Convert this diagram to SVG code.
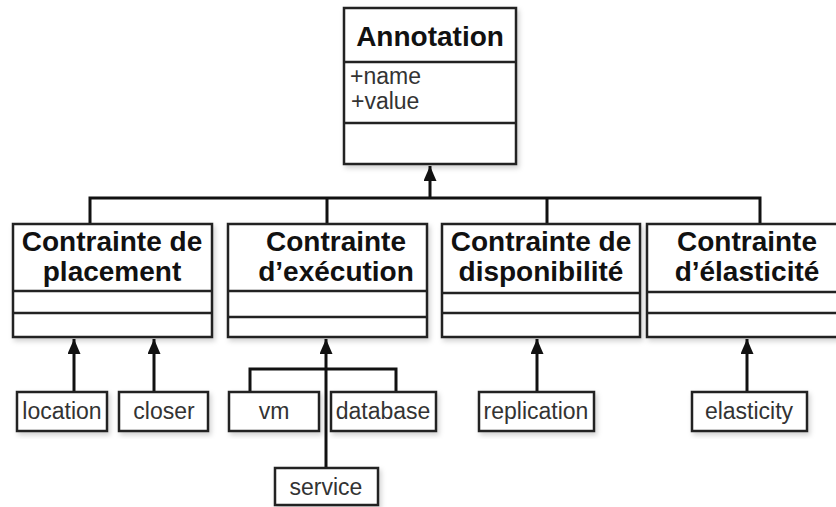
<svg xmlns="http://www.w3.org/2000/svg" width="836" height="507" viewBox="0 0 836 507">
<defs>
<filter id="sh" x="-10%" y="-10%" width="125%" height="130%">
<feDropShadow dx="2" dy="3" stdDeviation="2.5" flood-color="#000" flood-opacity="0.18"/>
</filter>
<marker id="arr" markerUnits="userSpaceOnUse" markerWidth="16" markerHeight="14" refX="15" refY="6.5" orient="auto">
<path d="M0,0 L15,6.5 L0,13 z" fill="#111"/>
</marker>
</defs>
<style>
.box{fill:#fff;stroke:#222;stroke-width:2.5;filter:url(#sh)}
.div{stroke:#222;stroke-width:2.5;fill:none}
.title{font-family:"Liberation Sans",Arial,sans-serif;font-weight:bold;font-size:28px;fill:#111;text-anchor:middle}
.attr{font-family:"Liberation Sans",Arial,sans-serif;font-size:23px;fill:#333}
.lbl{font-family:"Liberation Sans",Arial,sans-serif;font-size:23px;fill:#333;text-anchor:middle}
.con{stroke:#111;stroke-width:3;fill:none}
</style>
<rect width="836" height="507" fill="#fff"/>

<g id="connectors">
<path class="con" d="M90 224 V198 H760 V224 M327 198 V224 M547 198 V224"/>
<path class="con" d="M430 198 V166" marker-end="url(#arr)"/>
<path class="con" d="M74 392 V339" marker-end="url(#arr)"/>
<path class="con" d="M154 392 V339" marker-end="url(#arr)"/>
<path class="con" d="M250 392 V369 H396 V392"/>
<path class="con" d="M326 468 V339" marker-end="url(#arr)"/>
<path class="con" d="M537 392 V339" marker-end="url(#arr)"/>
<path class="con" d="M747 392 V339" marker-end="url(#arr)"/>
</g>

<g id="annotation">
<rect class="box" x="344" y="8" width="172" height="156"/>
<line class="div" x1="344" y1="62" x2="516" y2="62"/>
<line class="div" x1="344" y1="123" x2="516" y2="123"/>
<text class="title" x="430" y="46">Annotation</text>
<text class="attr" x="350" y="84">+name</text>
<text class="attr" x="351" y="109">+value</text>
</g>

<g id="placement">
<rect class="box" x="13" y="224" width="199" height="113"/>
<line class="div" x1="13" y1="291" x2="212" y2="291"/>
<line class="div" x1="13" y1="313" x2="212" y2="313"/>
<text class="title" x="112" y="251">Contrainte de</text>
<text class="title" x="112" y="281">placement</text>
</g>

<g id="execution">
<rect class="box" x="228" y="224" width="199" height="113"/>
<line class="div" x1="228" y1="291" x2="427" y2="291"/>
<line class="div" x1="228" y1="317" x2="427" y2="317"/>
<text class="title" x="336" y="251">Contrainte</text>
<text class="title" x="336" y="281">d’exécution</text>
</g>

<g id="disponibilite">
<rect class="box" x="442" y="224" width="198" height="113"/>
<line class="div" x1="442" y1="293" x2="640" y2="293"/>
<line class="div" x1="442" y1="313" x2="640" y2="313"/>
<text class="title" x="541" y="251">Contrainte de</text>
<text class="title" x="541" y="281">disponibilité</text>
</g>

<g id="elasticite">
<rect class="box" x="647" y="224" width="200" height="113"/>
<line class="div" x1="647" y1="292" x2="847" y2="292"/>
<line class="div" x1="647" y1="313" x2="847" y2="313"/>
<text class="title" x="747" y="251">Contrainte</text>
<text class="title" x="747" y="281">d’élasticité</text>
</g>

<g id="location">
<rect class="box" x="17" y="392" width="90" height="39"/>
<text class="lbl" x="62" y="419">location</text>
</g>
<g id="closer">
<rect class="box" x="119" y="392" width="89" height="39"/>
<text class="lbl" x="164" y="419">closer</text>
</g>
<g id="vm">
<rect class="box" x="229" y="392" width="90" height="39"/>
<text class="lbl" x="274" y="419">vm</text>
</g>
<g id="database">
<rect class="box" x="331" y="392" width="105" height="39"/>
<text class="lbl" x="383" y="419">database</text>
</g>
<g id="service">
<rect class="box" x="275" y="468" width="103" height="37"/>
<text class="lbl" x="326" y="495">service</text>
</g>
<g id="replication">
<rect class="box" x="479" y="392" width="115" height="39"/>
<text class="lbl" x="536" y="419">replication</text>
</g>
<g id="elasticity">
<rect class="box" x="692" y="392" width="115" height="39"/>
<text class="lbl" x="749" y="419">elasticity</text>
</g>
</svg>
